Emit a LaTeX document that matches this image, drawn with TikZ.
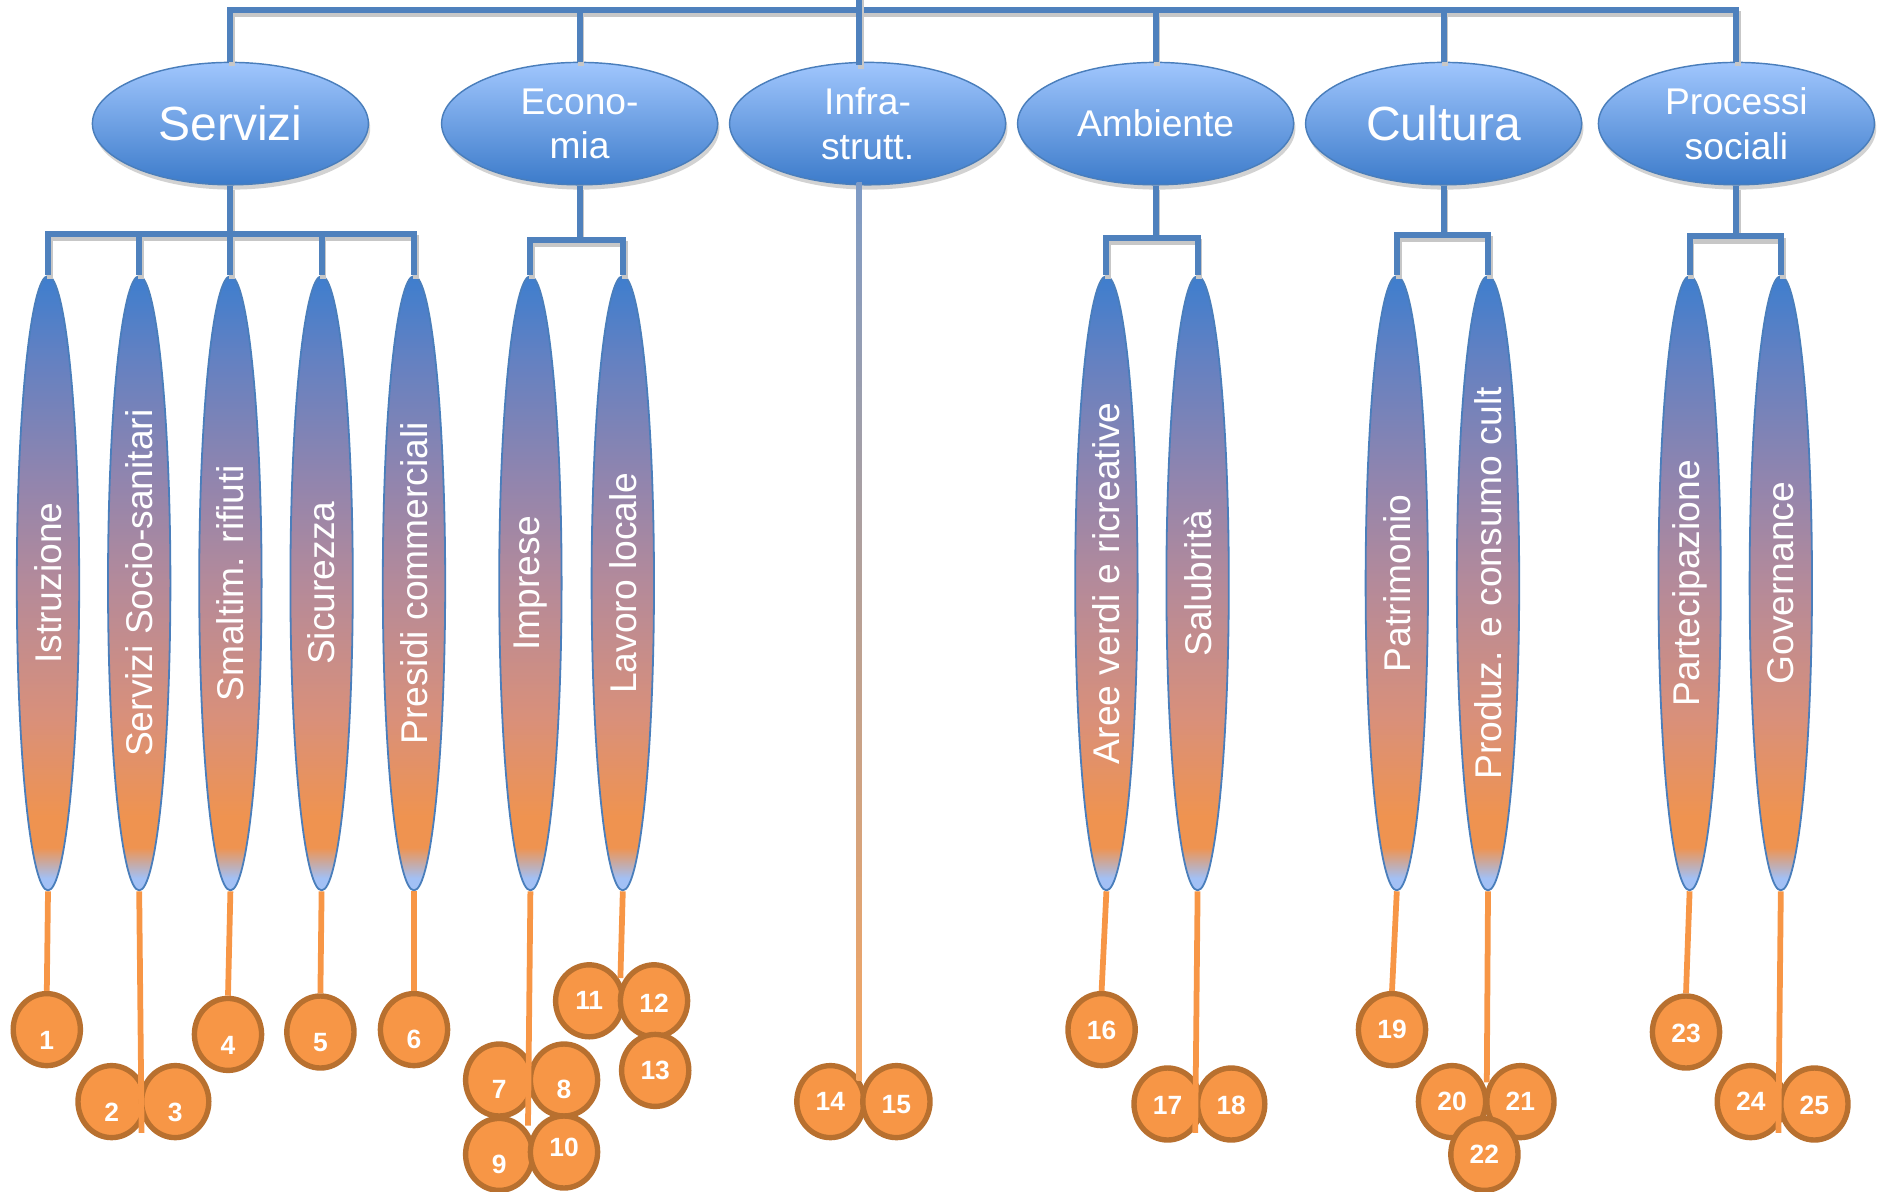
\documentclass[tikz,border=0pt]{standalone}
\usepackage{fontspec}
\setmainfont{Liberation Sans}
\usetikzlibrary{shapes.geometric,shadows,calc}

\definecolor{lblue}{HTML}{4F81BD}
\definecolor{eborder}{HTML}{4A7EBB}
\definecolor{etop}{HTML}{A0C6FD}
\definecolor{ebot}{HTML}{3C7BCA}
\definecolor{tipb}{HTML}{A2C0F5}
\definecolor{lo1}{HTML}{EF9350}
\definecolor{lo2}{HTML}{D9907A}
\definecolor{lo3}{HTML}{B48A9A}
\definecolor{lo4}{HTML}{9385AD}
\definecolor{lo5}{HTML}{6581C1}
\definecolor{lt1}{HTML}{3E7ECE}
\definecolor{numfill}{HTML}{F79646}
\definecolor{numdraw}{HTML}{B8702F}
\definecolor{oline}{HTML}{F79646}
\definecolor{infA}{HTML}{7E9BC6}
\definecolor{infB}{HTML}{F7A660}

\pgfdeclareverticalshading{leafshade}{100bp}{color(0bp)=(tipb); color(25bp)=(tipb); color(26bp)=(tipb); color(28.5bp)=(lo1); color(31bp)=(lo1); color(39bp)=(lo2); color(50bp)=(lo3); color(58bp)=(lo4); color(68bp)=(lo5); color(75bp)=(lt1); color(100bp)=(lt1)}

\newcommand\nt[2]{\raisebox{#1}[0pt][0pt]{#2}}

\begin{document}
\begin{tikzpicture}[x=1pt,y=-1pt,
  topell/.style={ellipse, draw=eborder, line width=1.2pt, top color=etop, bottom color=ebot,
    minimum width=230pt, minimum height=102pt, inner sep=0pt, text=white, align=center,
    font=\fontsize{31}{37}\selectfont,
    drop shadow={shadow xshift=1.5pt, shadow yshift=-4pt, fill=black!25, opacity=0.7}},
  bigtxt/.style={font=\fontsize{40}{44}\selectfont},
  leaf/.style={ellipse, draw=eborder, line width=1.5pt, shade, shading=leafshade,
    minimum width=52pt, minimum height=512pt, inner sep=0pt, text=white,
    font=\fontsize{31}{31}\selectfont},
  num/.style={ellipse, fill=numfill, draw=numdraw, line width=4.5pt, minimum width=56pt,
    minimum height=60pt, inner sep=0pt, text=white, font=\fontsize{22}{22}\selectfont\bfseries},
  bline/.style={draw=lblue, line width=5pt, line join=miter,
    preaction={draw=black!22, line width=5pt, transform canvas={shift={(1.5pt,-3.5pt)}}}},
  orl/.style={draw=oline, line width=4.8pt}
]
\useasboundingbox (0,0) rectangle (1567.5,993.3);

% level 1
\node[topell, bigtxt] (serv) at (192,103) {Servizi};
\node[topell] (econ) at (483,103) {Econo-\\mia};
\node[topell] (infra) at (723,103) {Infra-\\strutt.};
\node[topell] (amb) at (963,103) {Ambiente};
\node[topell, bigtxt] (cult) at (1203,103) {Cultura};
\node[topell] (proc) at (1447,103) {Processi\\sociali};

% leaves
\node[leaf] (l1) at (40,486) {\rotatebox{90}{Istruzione}};
\node[leaf] (l2) at (116,486) {\rotatebox{90}{Servizi Socio-sanitari}};
\node[leaf] (l3) at (192,486) {\rotatebox{90}{Smaltim. rifiuti}};
\node[leaf] (l4) at (268,486) {\rotatebox{90}{Sicurezza}};
\node[leaf] (l5) at (345,486) {\rotatebox{90}{Presidi commerciali}};
\node[leaf] (l6) at (442,486) {\rotatebox{90}{Imprese}};
\node[leaf] (l7) at (519,486) {\rotatebox{90}{Lavoro locale}};
\node[leaf] (l8) at (922,486) {\rotatebox{90}{Aree verdi e ricreative}};
\node[leaf] (l9) at (998,486) {\rotatebox{90}{Salubrità}};
\node[leaf] (l10) at (1164,486) {\rotatebox{90}{Patrimonio}};
\node[leaf] (l11) at (1240,486) {\rotatebox{90}{Produz. e consumo cult}};
\node[leaf] (l12) at (1408,486) {\rotatebox{90}{Partecipazione}};
\node[leaf] (l13) at (1484,486) {\rotatebox{90}{Governance}};

% numbered circles
\node[num] (n1) at (39,858) {\nt{-16.5pt}{1}};
\node[num] (n2) at (93,918) {\nt{-16.5pt}{2}};
\node[num] (n3) at (146,918) {\nt{-16.5pt}{3}};
\node[num] (n4) at (190,862) {\nt{-16.5pt}{4}};
\node[num] (n5) at (267,860) {\nt{-16.5pt}{5}};
\node[num] (n6) at (345,858) {\nt{-16pt}{6}};
\node[num] (n7) at (416,900) {\nt{-15.5pt}{7}};
\node[num] (n8) at (470,900) {\nt{-15.5pt}{8}};
\node[num] (n9) at (416,962) {\nt{-15.5pt}{9}};
\node[num] (n10) at (470,960) {\nt{-3.5pt}{10}};
\node[num] (n11) at (491,834) {\nt{-7.5pt}{11}};
\node[num] (n12) at (545,834) {\nt{-9.5pt}{12}};
\node[num] (n13) at (546,892) {\nt{-7.5pt}{13}};
\node[num] (n14) at (692,918) {\nt{-7.5pt}{14}};
\node[num] (n15) at (747,918) {\nt{-9.5pt}{15}};
\node[num] (n16) at (918,858) {\nt{-8.5pt}{16}};
\node[num] (n17) at (973,920) {\nt{-8.5pt}{17}};
\node[num] (n18) at (1026,920) {\nt{-8.5pt}{18}};
\node[num] (n19) at (1160,858) {\nt{-7.5pt}{19}};
\node[num] (n20) at (1210,918) {\nt{-7.5pt}{20}};
\node[num] (n21) at (1267,918) {\nt{-7.5pt}{21}};
\node[num] (n22) at (1237,962) {\nt{-7.5pt}{22}};
\node[num] (n23) at (1405,860) {\nt{-8.5pt}{23}};
\node[num] (n24) at (1459,918) {\nt{-7.5pt}{24}};
\node[num] (n25) at (1512,920) {\nt{-8.5pt}{25}};

% helper coordinates
\coordinate (bus) at (716,8);
\coordinate (rootup) at (716,-12);
\coordinate (infratop) at (716,54);
\coordinate (infrabot) at (716,152);
\coordinate (bS) at (192,195);
\coordinate (bE) at (483,200);
\coordinate (bA) at (963,198);
\coordinate (bC) at (1203,196);
\coordinate (bP) at (1447,197);
\coordinate (e2) at (118,944);
\coordinate (e6) at (440,938);
\coordinate (e7) at (517,815);
\coordinate (e14) at (716,900);
\coordinate (e9) at (996,944);
\coordinate (e11) at (1239,902);
\coordinate (e13) at (1482,944);

% blue connectors
\draw[bline] (serv.north) |- (bus) -| (proc.north);
\draw[bline] (econ.north) -- (econ.north |- bus);
\draw[bline] (amb.north) -- (amb.north |- bus);
\draw[bline] (cult.north) -- (cult.north |- bus);
\draw[bline] (rootup) -- (infratop);

\draw[bline] (serv.south) -- (bS);
\draw[bline] (l1.north) |- (bS) -| (l5.north);
\foreach \l in {l2,l3,l4} \draw[bline] (\l.north) -- (\l.north |- bS);

\draw[bline] (econ.south) -- (bE);
\draw[bline] (l6.north) |- (bE) -| (l7.north);

\draw[bline] (amb.south) -- (bA);
\draw[bline] (l8.north) |- (bA) -| (l9.north);

\draw[bline] (cult.south) -- (bC);
\draw[bline] (l10.north) |- (bC) -| (l11.north);

\draw[bline] (proc.south) -- (bP);
\draw[bline] (l12.north) |- (bP) -| (l13.north);

% orange connectors
\draw[orl] (l1.south) -- (n1.north);
\draw[orl] (l2.south) -- (e2);
\draw[orl] (l3.south) -- (n4.north);
\draw[orl] (l4.south) -- (n5.north);
\draw[orl] (l5.south) -- (n6.north);
\draw[orl] (l6.south) -- (e6);
\draw[orl] (l7.south) -- (e7);
\draw[orl] (l8.south) -- (n16.north);
\draw[orl] (l9.south) -- (e9);
\draw[orl] (l10.south) -- (n19.north);
\draw[orl] (l11.south) -- (e11);
\draw[orl] (l12.south) -- (n23.north);
\draw[orl] (l13.south) -- (e13);

% infrastructure connector (blue to orange)
\shade[top color=infA, bottom color=infB] ($(infrabot)+(-2.2,0)$) rectangle ($(e14)+(2.2,0)$);
\end{tikzpicture}
\end{document}
